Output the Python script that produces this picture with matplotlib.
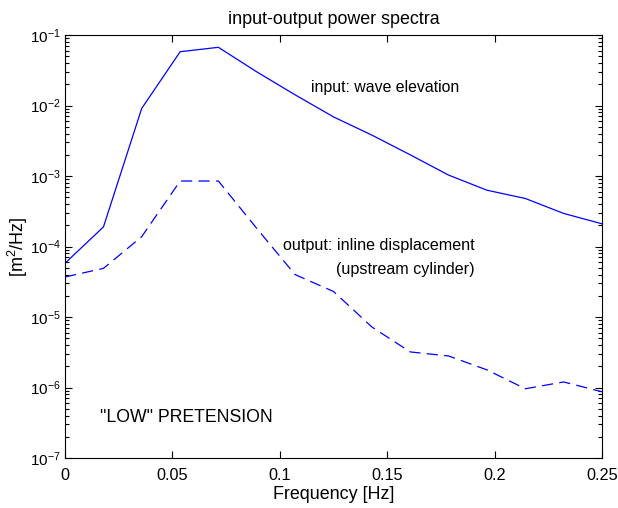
import numpy as np
import matplotlib
matplotlib.use("Agg")
import matplotlib.pyplot as plt
from matplotlib.ticker import LogLocator, NullFormatter

plt.rcParams['font.family'] = ['Liberation Sans', 'DejaVu Sans']
plt.rcParams['mathtext.fontset'] = 'custom'
plt.rcParams['mathtext.rm'] = 'Liberation Sans'
plt.rcParams['mathtext.it'] = 'Liberation Sans:italic'

freq = [0.0, 0.0179, 0.0357, 0.0536, 0.0714, 0.0893, 0.1071, 0.125,
        0.1429, 0.1607, 0.1786, 0.1964, 0.2143, 0.2321, 0.25]
input_wave = [5.8e-5, 1.9e-4, 9.1e-3, 5.8e-2, 6.7e-2, 3.0e-2, 1.42e-2, 6.9e-3,
              3.8e-3, 2.0e-3, 1.03e-3, 6.3e-4, 4.8e-4, 2.95e-4, 2.1e-4]
output_disp = [3.7e-5, 4.9e-5, 1.38e-4, 8.5e-4, 8.5e-4, 1.8e-4, 4.0e-5, 2.3e-5,
               7.2e-6, 3.2e-6, 2.8e-6, 1.78e-6, 9.6e-7, 1.2e-6, 8.7e-7]

fig = plt.figure(figsize=(6.18, 5.08), dpi=100)
ax = fig.add_axes([0.1052, 0.0984, 0.869, 0.8326])

ax.semilogy(freq, input_wave, color='#0000ff', lw=0.9)
ax.semilogy(freq, output_disp, color='#0000ff', lw=0.9, dashes=(9, 5))

ax.set_xlim(0, 0.25)
ax.set_ylim(1e-7, 1e-1)
ax.set_xticks([0, 0.05, 0.1, 0.15, 0.2, 0.25])
ax.set_xticklabels(['0', '0.05', '0.1', '0.15', '0.2', '0.25'])
ax.yaxis.set_major_locator(LogLocator(base=10, numticks=10))
ax.yaxis.set_minor_locator(LogLocator(base=10, subs=np.arange(2, 10), numticks=20))
ax.yaxis.set_minor_formatter(NullFormatter())
ax.xaxis.offsetText.set_visible(False)
ax.yaxis.offsetText.set_visible(False)

ax.tick_params(which='both', direction='in', top=True, right=True, width=0.8)
ax.tick_params(axis='x', labelsize=11.7, pad=7)
ax.tick_params(axis='y', labelsize=11, pad=3)
ax.tick_params(which='major', length=5)
ax.tick_params(which='minor', length=3)
for s in ax.spines.values():
    s.set_linewidth(0.8)

ax.set_title('input-output power spectra', fontsize=12.9, pad=8)
ax.set_xlabel('Frequency [Hz]', fontsize=12.9, va='center')
ax.xaxis.set_label_coords(0.5, -0.087)
ax.set_ylabel(r'[m$^2$/Hz]', fontsize=13, va='center')
ax.yaxis.set_label_coords(-0.087, 0.5)

ax.text(0.1145, 10**-1.74, 'input: wave elevation', fontsize=11.4, va='center', ha='left')
ax.text(0.1905, 10**-3.98, 'output: inline displacement', fontsize=11.6, va='center', ha='right')
ax.text(0.1905, 10**-4.33, '(upstream cylinder)', fontsize=11.6, va='center', ha='right')
ax.text(0.0162, 10**-6.43, '"LOW" PRETENSION', fontsize=12.7, va='center', ha='left')

fig.savefig('out.png', dpi=100)
